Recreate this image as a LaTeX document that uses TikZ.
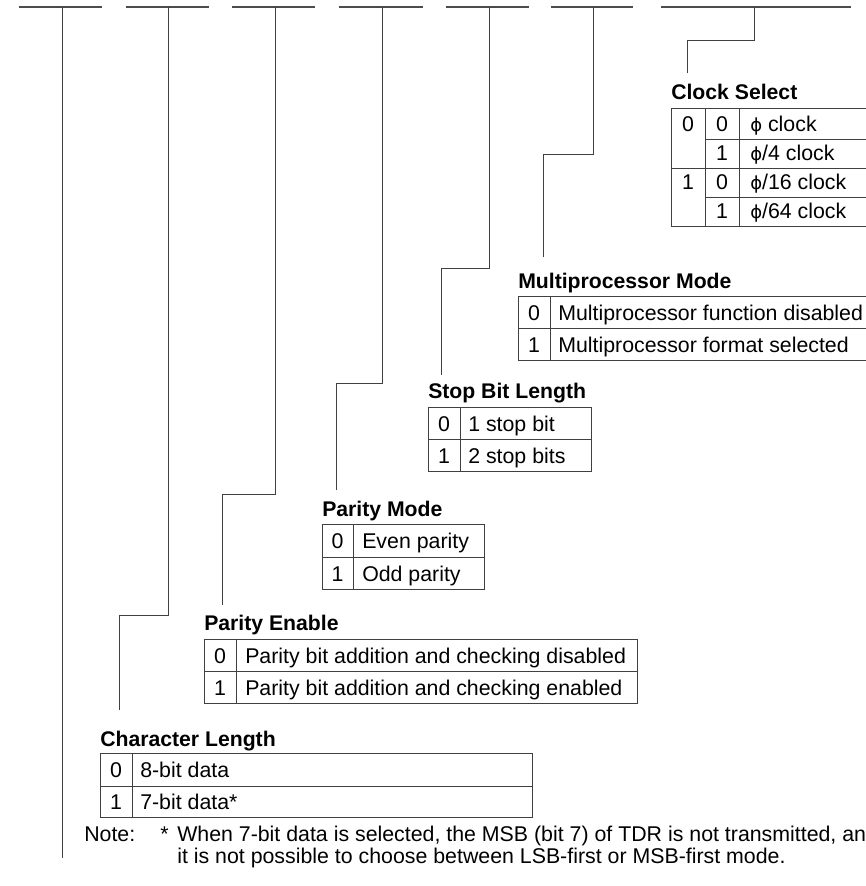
\documentclass[tikz,border=0pt]{standalone}
\usepackage{fontspec}
\setmainfont{Liberation Sans}
\newfontfamily\phifont{DejaVu Sans}
\tikzset{
 bus/.style={draw=black!70, line width=1.1pt},
 lead/.style={draw=black!75, line width=0.75pt},
 tab/.style={draw=black!75, line width=0.75pt},
 ttl/.style={anchor=base west, inner sep=0pt, font=\fontsize{15.9}{18}\bfseries\selectfont},
 txt/.style={anchor=base west, inner sep=0pt, font=\fontsize{16}{18}\selectfont},
 num/.style={anchor=base, inner sep=0pt, font=\fontsize{16}{18}\selectfont},
}
\newcommand\ph{{\phifont\fontsize{13.5}{16}\selectfont ϕ}}
\begin{document}
\begin{tikzpicture}[x=0.75pt,y=-0.75pt]
\useasboundingbox (0,0) rectangle (865,886);
% bus segments
\foreach \a/\b [count=\i] in {19/102,126/209,232/315,339/423,446/529,551/633,661/851}{
  \coordinate (sa\i) at (\a,7); \coordinate (sb\i) at (\b,7);
  \draw[bus] (sa\i) -- (sb\i);
}
% tap points on the bus
\coordinate (t1) at (62,7);
\coordinate (t2) at (168,7);
\coordinate (t3) at (275,7);
\coordinate (t4) at (382,7);
\coordinate (t5) at (489,7);
\coordinate (t6) at (593,7);
\coordinate (t7) at (754,7);
% elbows and ends
\coordinate (e1) at (62,858);
\coordinate (k2) at (119,615); \coordinate (e2) at (119,710);
\coordinate (k3) at (222,494); \coordinate (e3) at (222,605);
\coordinate (k4) at (336,383); \coordinate (e4) at (336,490);
\coordinate (k5) at (441,268); \coordinate (e5) at (441,375);
\coordinate (k6) at (543,154); \coordinate (e6) at (543,257);
\coordinate (k7) at (687,40);  \coordinate (e7) at (687,73);
\draw[lead] (t1) -- (e1);
\foreach \i in {2,...,7}{ \draw[lead] (t\i) |- (k\i) -- (e\i); }

% ---------- Clock Select ----------
\node[ttl] (cst) at (671,99) {Clock Select};
\draw[tab] (870,108) -- (671,108) -- (671,226) -- (870,226);
\draw[tab] (705,108) -- (705,226);
\draw[tab] (739,108) -- (739,226);
\draw[tab] (705,139) -- (870,139);
\draw[tab] (671,168) -- (870,168);
\draw[tab] (705,197) -- (870,197);
\node[num] (cs00) at (688,131.5) {0};
\node[num] (cs01) at (722,131.5) {0};
\node[txt] (cs0t) at (750,131.5) {\ph\ clock};
\node[num] (cs11) at (722,160.5) {1};
\node[txt] (cs1t) at (750,160.5) {\ph/4 clock};
\node[num] (cs20) at (688,189.5) {1};
\node[num] (cs21) at (722,189.5) {0};
\node[txt] (cs2t) at (750,189.5) {\ph/16 clock};
\node[num] (cs31) at (722,218.5) {1};
\node[txt] (cs3t) at (750,218.5) {\ph/64 clock};

% ---------- Multiprocessor Mode ----------
\node[ttl] (mpt) at (518,288) {Multiprocessor Mode};
\draw[tab] (870,296) -- (518,296) -- (518,360) -- (870,360);
\draw[tab] (518,328) -- (870,328);
\draw[tab] (550,296) -- (550,360);
\node[num] (mp0) at (534,320) {0};
\node[txt] (mp0t) at (558,320) {Multiprocessor function disabled};
\node[num] (mp1) at (534,352) {1};
\node[txt] (mp1t) at (558,352) {Multiprocessor format selected};

% ---------- Stop Bit Length ----------
\node[ttl] (sbt) at (428,398) {Stop Bit Length};
\draw[tab] (428,407) rectangle (591,471);
\draw[tab] (428,439) -- (591,439);
\draw[tab] (460,407) -- (460,471);
\node[num] (sb0) at (444,431) {0};
\node[txt] (sb0t) at (468,431) {1 stop bit};
\node[num] (sb1) at (444,463) {1};
\node[txt] (sb1t) at (468,463) {2 stop bits};

% ---------- Parity Mode ----------
\node[ttl] (pmt) at (322,516) {Parity Mode};
\draw[tab] (322,524) rectangle (484,589);
\draw[tab] (322,557) -- (484,557);
\draw[tab] (353,524) -- (353,589);
\node[num] (pm0) at (337.5,548.5) {0};
\node[txt] (pm0t) at (362,548.5) {Even parity};
\node[num] (pm1) at (337.5,581) {1};
\node[txt] (pm1t) at (362,581) {Odd parity};

% ---------- Parity Enable ----------
\node[ttl] (pet) at (204,630) {Parity Enable};
\draw[tab] (204,639) rectangle (637,703);
\draw[tab] (204,671) -- (637,671);
\draw[tab] (236,639) -- (236,703);
\node[num] (pe0) at (220,663) {0};
\node[txt] (pe0t) at (245,663) {Parity bit addition and checking disabled};
\node[num] (pe1) at (220,695) {1};
\node[txt] (pe1t) at (245,695) {Parity bit addition and checking enabled};

% ---------- Character Length ----------
\node[ttl] (clt) at (100,746) {Character Length};
\draw[tab] (100,753) rectangle (532,817);
\draw[tab] (100,786) -- (532,786);
\draw[tab] (132,753) -- (132,817);
\node[num] (cl0) at (116,777.5) {0};
\node[txt] (cl0t) at (140,777.5) {8-bit data};
\node[num] (cl1) at (116,809.5) {1};
\node[txt] (cl1t) at (140,809.5) {7-bit data*};

% ---------- Note ----------
\node[txt] (note) at (84,841) {Note:};
\node[txt] (star) at (160,841) {*};
\node[txt] (nl1) at (177,841) {When 7-bit data is selected, the MSB (bit 7) of TDR is not transmitted, an};
\node[txt] (nl2) at (177,863) {it is not possible to choose between LSB-first or MSB-first mode.};
\end{tikzpicture}
\end{document}
